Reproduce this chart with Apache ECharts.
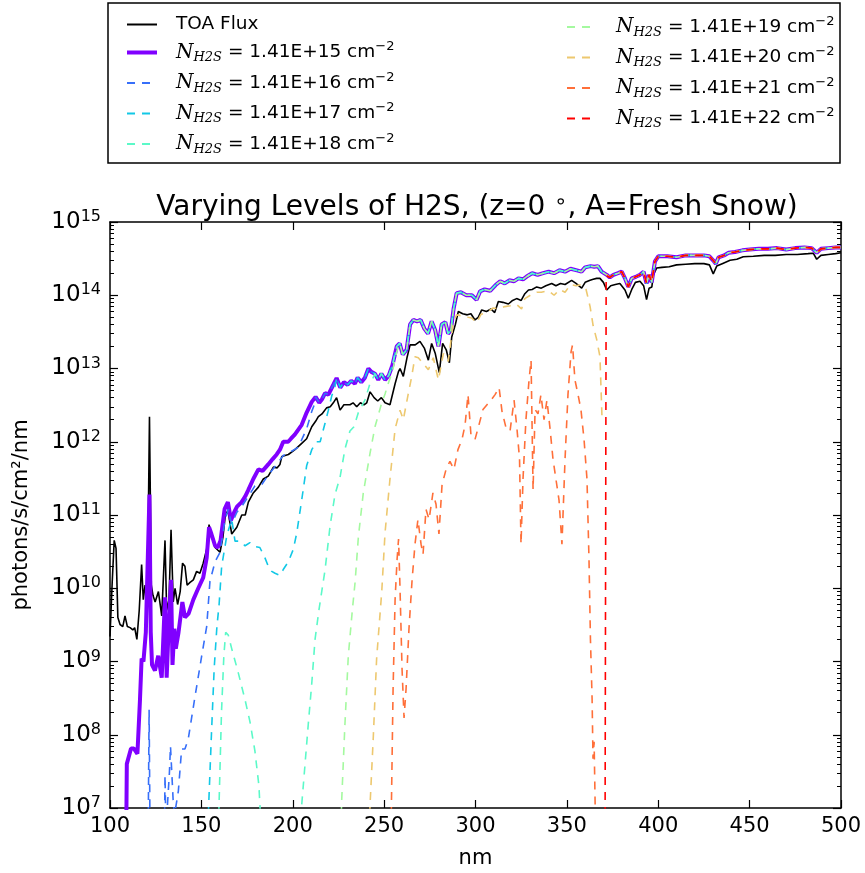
<!DOCTYPE html>
<html><head><meta charset="utf-8">
<script src="https://cdn.jsdelivr.net/npm/echarts@6/dist/echarts.min.js"></script>
<style>html,body{margin:0;padding:0;background:#fff}#chart{width:865px;height:873px}</style>
</head><body><div id="chart"></div>
<script>
// ---------------- data ----------------
const xTickValues = [100, 150, 200, 250, 300, 350, 400, 450, 500];
const yTickExponents = [7, 8, 9, 10, 11, 12, 13, 14, 15];
const columnDensities = ['1.41E+15', '1.41E+16', '1.41E+17', '1.41E+18', '1.41E+19', '1.41E+20', '1.41E+21', '1.41E+22'];

const toaWavelength = [
  100,101.2,102.3,103.3,104.3,105.5,107,108.2,109.5,111,
  112.5,113.5,114.7,116,117.3,118.2,119.2,120.5,121.6,122.6,
  123.5,124.7,126.5,128.3,130.1,131,132.3,133.4,134.6,135.6,
  137,138.4,139.7,141,142.2,143.8,145.6,147.4,149.2,151,
  152.9,154.2,155.6,157.5,160.2,161.8,163.3,164.8,166.6,169.4,
  172.1,174,175.7,178.4,181.2,183.9,186.6,189.4,191.5,193,
  194,197.6,201.2,204.9,207.6,210.4,212.5,214,216,218.5,
  220.5,222.2,224,225.9,228,231.3,233,235,237,239,
  240.5,242.3,244.5,246.5,248.5,250.5,253.2,256,257.8,258.7,
  260.5,262.5,264.2,267,269.6,272,274.2,276,278,280.2,
  282,284,285.7,287,289,290.6,293,295.5,297.5,299.7,
  301.5,303.4,306,308.5,310.5,312.5,315,318,320,322.5,
  325,327,329,331,333.5,336,338.5,341.7,344,346.5,
  349,352.6,355,358.1,360,362.7,364.4,366.3,368.1,370,
  371.8,374,376.5,379,381.8,383.6,385.5,387.5,390,392,
  393.6,395,396.5,397.3,399.1,402,406,410,415,420,
  425,428,430.1,432,435,439.3,443,446.5,452,458,
  464,470,476,482,484.8,486.7,489,493,497,500];
const toaFlux = [
  2.2e9,1.2e10,4.5e10,3.5e10,4.0e9,3.2e9,3.0e9,4.2e9,3.0e9,2.9e9,
  2.7e9,2.9e9,2.0e9,5.0e9,2.1e10,7.0e9,1.1e10,9.0e9,2.2e12,1.1e10,
  8.0e9,6.5e9,9.0e9,4.2e9,4.5e10,5.0e9,7.0e9,6.3e10,6.5e9,1.0e10,
  6.0e9,9.0e9,2.2e10,2.0e10,1.1e10,1.2e10,1.3e10,1.7e10,1.6e10,2.2e10,
  3.4e10,7.4e10,5.2e10,3.6e10,3.1e10,5.0e10,1.1e11,1.05e11,5.5e10,6.8e10,
  1.0e11,1.0e11,1.5e11,2.0e11,2.4e11,3.1e11,3.4e11,4.5e11,4.4e11,4.9e11,
  6.3e11,6.7e11,7.8e11,9.5e11,1.1e12,1.6e12,1.9e12,2.2e12,2.4e12,2.9e12,
  3.0e12,3.4e12,4.0e12,2.7e12,3.2e12,3.2e12,3.4e12,3.0e12,3.4e12,3.2e12,
  3.4e12,4.8e12,4.0e12,3.6e12,4.0e12,3.4e12,3.2e12,6.2e12,9.0e12,1.0e13,
  7.8e12,1.4e13,2.1e13,2.1e13,2.35e13,1.9e13,1.3e13,2.2e13,1.6e13,8.8e12,
  2.2e13,1.8e13,1.2e13,2.7e13,4.0e13,6.0e13,5.6e13,5.4e13,5.6e13,4.6e13,
  5.0e13,6.3e13,6.0e13,6.5e13,5.8e13,8.2e13,8.0e13,7.6e13,8.4e13,9.0e13,
  8.5e13,1.05e14,1.18e14,1.2e14,1.3e14,1.25e14,1.35e14,1.45e14,1.35e14,1.45e14,
  1.4e14,1.6e14,1.45e14,1.25e14,1.5e14,1.6e14,1.65e14,1.7e14,1.7e14,1.5e14,
  1.18e14,1.35e14,1.4e14,1.45e14,1.18e14,9.1e13,1.2e14,1.5e14,1.55e14,1.35e14,
  8.7e13,1.25e14,1.3e14,1.9e14,2.35e14,2.4e14,2.45e14,2.6e14,2.65e14,2.7e14,
  2.7e14,2.6e14,1.96e14,2.5e14,2.7e14,3.0e14,3.1e14,3.35e14,3.4e14,3.5e14,
  3.5e14,3.6e14,3.6e14,3.7e14,3.75e14,3.1e14,3.5e14,3.6e14,3.7e14,3.8e14];

// upper (surface-reflected) spectrum shared by all H2S columns once absorption is negligible
const upperWavelength = [
  160.5,162.7,164.5,166.2,168,169.5,172,174,175.7,178.4,
  181.2,183.5,186.6,189,191.2,193,194.8,197.5,199,201.2,
  204.9,207.6,210.4,212.5,214.5,216,217.7,219.5,222.2,224,
  226,228,230,232,234,235.5,237.5,239.5,241.4,243,
  245,246.8,248.5,250.5,252.5,254.5,256.9,258.5,260.2,262.3,
  264.2,266,268,270,272,274,276,278,279.7,281.5,
  283.5,285,286.5,288,289.7,292,295,298,300.6,302.5,
  305,308,311,313.5,316,318.5,321,323.5,326,328,
  331,334,337,340,343,346,349,352,355,358,
  360,363,365,367,369,371.8,373.5,375.5,378,380,
  381.8,383.6,385.5,388,390,392,393.6,395,396.4,398.2,
  400,405,410,415,420,425,428,430,431.5,433,
  436,438.5,442,446,450,455,460,465,470,475,
  480,484,486.7,489,493,497,500];
const upperFlux = [
  4.5e10,1.2e11,1.5e11,8.5e10,1.1e11,1.3e11,1.5e11,1.8e11,2.2e11,3.1e11,
  4.2e11,4.0e11,4.9e11,5.8e11,6.7e11,7.8e11,1.0e12,1.0e12,1.1e12,1.26e12,
  1.7e12,2.5e12,3.5e12,4.1e12,3.4e12,3.8e12,4.6e12,4.4e12,6.0e12,7.4e12,
  5.5e12,6.5e12,6.0e12,6.8e12,6.2e12,7.5e12,6.5e12,7.5e12,1.0e13,9.0e12,
  8.5e12,7.0e12,8.5e12,7.0e12,8.0e12,1.1e13,2.0e13,2.2e13,1.55e13,1.8e13,
  4.0e13,4.6e13,4.4e13,4.6e13,3.5e13,3.0e13,4.4e13,3.3e13,2.0e13,4.0e13,
  4.3e13,3.0e13,3.3e13,6.5e13,1.07e14,1.1e14,1.0e14,1.0e14,8.7e13,1.13e14,
  1.2e14,1.15e14,1.38e14,1.55e14,1.45e14,1.6e14,1.55e14,1.7e14,1.65e14,1.8e14,
  2.0e14,1.9e14,2.0e14,2.1e14,2.0e14,2.2e14,2.1e14,2.3e14,2.2e14,2.1e14,
  2.4e14,2.5e14,2.45e14,2.5e14,2.1e14,1.9e14,1.75e14,1.9e14,2.0e14,2.1e14,
  1.7e14,1.3e14,1.7e14,1.8e14,1.9e14,2.1e14,1.45e14,1.9e14,1.5e14,2.9e14,
  3.4e14,3.4e14,3.3e14,3.5e14,3.5e14,3.5e14,3.4e14,3.0e14,2.7e14,3.3e14,
  3.5e14,3.8e14,3.9e14,4.1e14,4.2e14,4.3e14,4.3e14,4.4e14,4.2e14,4.4e14,
  4.5e14,4.4e14,3.8e14,4.3e14,4.4e14,4.5e14,4.5e14];

// absorbed part of each H2S column (before it joins the upper spectrum); null = zero flux (gap on a log axis)
const h2s15Wavelength = [108.9,109.2,111.5,113,115,116.4,117.3,118.3,119.6,121.6,
  122.3,123,124.6,126.4,128.3,130.1,131,132,133.4,134.2,
  135.2,136,137.5,139.6,141,143,145.6,148.3,151,152.9,
  154.2,155.5,157.5,159];
const h2s15Flux = [5e6,4e7,6.5e7,6.5e7,5.5e7,3e8,1.1e9,1e9,2.5e9,1.9e11,
  2.5e9,9e8,7.5e8,1.2e9,6e8,7.5e9,6e8,2.5e9,1.3e10,9e8,
  2.8e9,1.5e9,2.5e9,6.5e9,4e9,4.5e9,7e9,1e10,1.4e10,2.6e10,
  6.8e10,5.5e10,3.8e10,3.6e10];

const h2s16Wavelength = [120.9,121.4,121.9,129.8,130.1,130.6,132.5,133.1,134.6,135.3,
  137.4,139.2,141,142.8,146.5,150.2,152.9,154.7,157.5,160.2,
  163,164.8,166.5,169.5,172,175.7,179.3,183,186.6,191.2,
  194.8,197.6,203,207.6,210.4,212.2];
const h2s16Flux = [5e6,2.2e8,5e6,5e6,2.8e7,5e6,3e7,7e7,1.2e7,8e6,
  1.7e7,6.4e7,6.4e7,8.7e7,3.3e8,1.2e9,3e9,1.25e10,2.3e10,3.1e10,
  8.8e10,1.2e11,7.5e10,1.1e11,1.3e11,1.8e11,2.5e11,2.6e11,3.5e11,4.9e11,
  6.5e11,7e11,8.4e11,1.5e12,2.6e12,3.4e12];

const h2s17Wavelength = [153.5,154,155.5,157,158.5,159.7,161.1,163.9,166.6,168.4,
  171,173.9,176.6,179.5,182,184.8,186.6,188.5,190.3,193,
  194.8,197.6,200.3,202.2,204.9,207.6,210.4,213.1,215,217.7,
  219.5,221.3,223];
const h2s17Flux = [5e6,1.1e7,1e8,8e8,3e9,6e9,2e10,5.2e10,8.8e10,4.4e10,
  4.4e10,3.8e10,4.2e10,3.7e10,3.6e10,2.6e10,2e10,1.7e10,1.6e10,1.5e10,
  1.8e10,2.3e10,3.4e10,5.7e10,1.6e11,4.7e11,7.8e11,1.0e12,1.0e12,1.8e12,
  2.7e12,4.2e12,5.5e12];

const h2s18Wavelength = [159.3,159.7,161,162.3,163.3,164.7,166.6,170.2,173.9,176.6,
  179.3,181.5,182.3,183,204.5,204.9,206.7,208.5,210.4,212.2,
  214.4,217.7,220.4,223.1,225.9,228.6,231.3,233.5,235.9,239.5,
  242.3,244];
const h2s18Flux = [5e6,1.2e7,2e8,1.2e9,2.5e9,2.3e9,1.5e9,7e8,3e8,1.5e8,
  6e7,2e7,8e6,5e6,5e6,1.1e7,3.9e7,1.4e8,5e8,2e9,
  5.2e9,1.8e10,7e10,1.9e11,3.3e11,8e11,1.4e12,1.6e12,2.5e12,3.7e12,
  6.3e12,7.5e12];

const h2s19Wavelength = [226.3,226.8,228.5,230.4,232.6,234.1,235.9,238.6,242.3,245,
  248.7,250.5,252.3,254.5,256.9];
const h2s19Flux = [5e6,1.3e7,1.3e8,1.2e9,5e9,1.2e10,5e10,2e11,7e11,1.6e12,
  3.4e12,4.5e12,6.3e12,9e12,1.7e13];

const h2s20Wavelength = [241.8,242.3,244.1,245.9,248.7,250.5,253.2,256,258.7,260.5,
  263.2,265.1,266.9,268.7,271,274.2,276.9,279.7,282.4,285.1,
  287.8,289.7,293,296,297.9,300.6,303,306,309.7,313,
  316,319,322.5,325.2,327,330,333.5,336,340,343,
  346,349,352,355,358,360.5,362.7,364.4,366.3,368.1,
  369.2,370.5];
const h2s20Flux = [5e6,1.1e7,9.6e7,1.1e9,9e9,5.7e10,3.1e11,1.5e12,2.7e12,2e12,
  4.5e12,7.8e12,1.45e13,1.4e13,1.2e13,9.6e12,1.4e13,7e12,1.6e13,1.25e13,
  4.2e13,5.4e13,5.2e13,5e13,4.9e13,4.2e13,5.5e13,5.8e13,6.7e13,6.5e13,
  7e13,7.2e13,7.5e13,6.5e13,9e13,1e14,1.1e14,1.1e14,1.15e14,1e14,
  1.2e14,1.1e14,1.4e14,1.35e14,1.4e14,1.2e14,7e13,3.8e13,2.5e13,1.45e13,
  2.2e12,null];

const h2s21Wavelength = [253.8,254.9,256,257.1,257.9,258.7,259.8,260.9,262,263.6,
  265.3,266.9,268.5,270.2,271.3,272.9,274.6,276.7,278.4,280,
  281.7,283.9,286,288.2,290.4,292.6,294.3,295.9,297.5,299.7,
  301.9,304.1,306.3,308.5,310.7,312.9,314.5,316.7,318.9,321.1,
  322.7,324.1,324.9,326,327.6,329.3,330.4,331.5,332.6,334.2,
  335.8,337.5,339.1,340.8,342.4,344,345.7,347.3,349,350.6,
  352.3,353.1,354.4,356.1,357.7,359.4,361,362.1,362.9,363.8,
  364.3,364.9,365.7,370.5];
const h2s21Flux = [5e6,4.2e8,7e9,2.5e10,4.7e10,9.8e9,8e8,1.7e8,4.2e8,2.8e9,
  1.3e10,4e10,8.7e10,4e10,2.9e10,1.2e11,8.7e10,2e11,1.4e11,5.5e10,
  2.6e11,4.2e11,5.4e11,4.2e11,7.8e11,1.07e12,1.7e12,4.4e12,1.25e12,1.07e12,
  1.7e12,2.75e12,3.2e12,3.7e12,4.4e12,5.5e12,2.6e12,1.55e12,1.4e12,3.7e12,
  1.5e12,5.8e11,4e10,3.1e11,2e12,7e12,1.3e13,2.2e11,2.75e12,2.4e12,
  4.4e12,2e12,3.7e12,1.5e12,5.8e11,3.1e11,1.6e11,4e10,5.8e11,4.4e12,
  1.7e13,2.1e13,7e12,4.4e12,2.75e12,1.07e12,3.1e11,2.5e10,2e9,3.1e8,
  4.7e7,8e7,5e6,null];

const h2s22Wavelength = [370.9, 371.5];
const h2s22Flux = [5e6, 1.85e14];

// ---------------- styles ----------------
const FONT = 'DejaVu Sans';
const seriesColors = ['#8000ff', '#376ff9', '#12c8e6', '#5bf9c8', '#a4f99f', '#edc86f', '#ff6f39', '#ff0000'];

function pairs(w, v) { return w.map((x, i) => [x, v[i]]); }
function joinUpper(w, v) {
  const out = pairs(w, v);
  const last = w[w.length - 1];
  upperWavelength.forEach((x, i) => { if (x > last) out.push([x, upperFlux[i]]); });
  return out;
}

const ownW = [h2s15Wavelength, h2s16Wavelength, h2s17Wavelength, h2s18Wavelength, h2s19Wavelength, h2s20Wavelength, h2s21Wavelength, h2s22Wavelength];
const ownF = [h2s15Flux, h2s16Flux, h2s17Flux, h2s18Flux, h2s19Flux, h2s20Flux, h2s21Flux, h2s22Flux];
const h2sNames = columnDensities.map(d => 'N_H2S = ' + d + ' cm^-2');

const series = [{
  name: 'TOA Flux', type: 'line', data: pairs(toaWavelength, toaFlux),
  symbol: 'none', showSymbol: false, clip: true,
  lineStyle: { color: '#000', width: 1.6 }, itemStyle: { color: '#000' }
}];
h2sNames.forEach((nm, i) => {
  series.push({
    name: nm, type: 'line', data: joinUpper(ownW[i], ownF[i]),
    symbol: 'none', showSymbol: false, clip: true, connectNulls: false,
    lineStyle: i === 0 ? { color: seriesColors[i], width: 4 } : { color: seriesColors[i], width: 1.6, type: [8, 7] },
    itemStyle: { color: seriesColors[i] }
  });
});

const minorTicks = [];
yTickExponents.slice(0, -1).forEach(e => { for (let k = 2; k <= 9; k++) minorTicks.push(k * Math.pow(10, e)); });

const legendRich = {
  t: { fontFamily: FONT, fontSize: 18.5, lineHeight: 24, color: '#000' },
  n: { fontFamily: 'DejaVu Serif', fontStyle: 'italic', fontSize: 20, lineHeight: 24, color: '#000' },
  s: { fontFamily: 'DejaVu Serif', fontStyle: 'italic', fontSize: 13, lineHeight: 13, verticalAlign: 'bottom', color: '#000' },
  p: { fontFamily: FONT, fontSize: 13, lineHeight: 13, verticalAlign: 'top', color: '#000' }
};
function legendFormatter(name) {
  if (name === 'TOA Flux') return '{t|TOA Flux}';
  const d = columnDensities[h2sNames.indexOf(name)];
  return '{n|N}{s|H2S}{t| = ' + d + ' cm}{p|\u22122}';
}
function legendData(names) {
  return names.map(n => n === h2sNames[0] ? { name: n, lineStyle: { width: 4 } } : { name: n });
}
const legendCommon = {
  orient: 'vertical', itemWidth: 30, itemHeight: 14, itemGap: 6.5,
  formatter: legendFormatter,
  itemStyle: { opacity: 0, borderWidth: 0 },
  textStyle: { rich: legendRich, padding: [0, 0, 0, 14] }, selectedMode: false
};

const yLabelRich = {
  b: { fontFamily: FONT, fontSize: 23, color: '#000', lineHeight: 26 },
  e: { fontFamily: FONT, fontSize: 16, color: '#000', lineHeight: 15, verticalAlign: 'top' }
};
function yLabel(v) { return '{b|10}{e|' + Math.round(Math.log10(v)) + '}'; }

const baseX = { type: 'value', min: 100, max: 500, interval: 50 };
const baseY = { type: 'log', logBase: 10, min: 1e7, max: 1e15, splitNumber: 8 };
const axisLine = { show: true, lineStyle: { color: '#000', width: 1.5 } };

const option = {
  animation: false,
  backgroundColor: '#fff',
  title: {
    text: '{a|Varying Levels of H2S, (z=0 }{d|\u2218}{a|, A=Fresh Snow)}',
    left: 472, top: 187, textAlign: 'center',
    textStyle: { fontWeight: 'normal', rich: {
      a: { fontFamily: FONT, fontSize: 28, fontWeight: 'normal', color: '#000', lineHeight: 31 },
      d: { fontFamily: FONT, fontSize: 21, fontWeight: 'normal', color: '#000', lineHeight: 14, verticalAlign: 'top' }
    } }
  },
  graphic: [{
    type: 'rect', shape: { x: 108, y: 3, width: 732, height: 160 },
    style: { fill: '#fff', stroke: '#000', lineWidth: 1.5 }, z: -1, silent: true
  }],
  legend: [
    Object.assign({}, legendCommon, { left: 120, top: 10, data: legendData(['TOA Flux'].concat(h2sNames.slice(0, 4))) }),
    Object.assign({}, legendCommon, { left: 561, top: 10, data: legendData(h2sNames.slice(4)) })
  ],
  grid: { left: 110, right: 24, top: 222, bottom: 65, outerBoundsMode: 'none', containLabel: false },
  xAxis: [
    Object.assign({}, baseX, {
      position: 'bottom', axisLine,
      axisTick: { show: true, inside: true, length: 8, lineStyle: { color: '#000', width: 1.2 } },
      axisLabel: { show: true, margin: 8, fontFamily: FONT, fontSize: 21, color: '#000', showMinLabel: true, showMaxLabel: true },
      splitLine: { show: false },
      name: 'nm', nameLocation: 'middle', nameGap: 40,
      nameTextStyle: { fontFamily: FONT, fontSize: 21, color: '#000' }
    }),
    Object.assign({}, baseX, {
      position: 'top', axisLine,
      axisTick: { show: true, inside: true, length: 8, lineStyle: { color: '#000', width: 1.2 } },
      axisLabel: { show: false }, splitLine: { show: false }
    })
  ],
  yAxis: [
    Object.assign({}, baseY, {
      position: 'left', axisLine,
      axisTick: { show: true, inside: true, length: 8, lineStyle: { color: '#000', width: 1.2 } },
      axisLabel: { show: true, margin: 9, formatter: yLabel, rich: yLabelRich, showMinLabel: true, showMaxLabel: true },
      splitLine: { show: false },
      name: 'photons/s/cm\u00b2/nm', nameLocation: 'middle', nameGap: 78,
      nameTextStyle: { fontFamily: FONT, fontSize: 21, color: '#000' }
    }),
    Object.assign({}, baseY, {
      position: 'left', axisLine: { show: false },
      axisTick: { show: true, inside: true, length: 4, customValues: minorTicks, lineStyle: { color: '#000', width: 1 } },
      axisLabel: { show: false }, splitLine: { show: false }
    }),
    Object.assign({}, baseY, {
      position: 'right', axisLine,
      axisTick: { show: true, inside: true, length: 8, lineStyle: { color: '#000', width: 1.2 } },
      axisLabel: { show: false }, splitLine: { show: false }
    }),
    Object.assign({}, baseY, {
      position: 'right', axisLine: { show: false },
      axisTick: { show: true, inside: true, length: 4, customValues: minorTicks, lineStyle: { color: '#000', width: 1 } },
      axisLabel: { show: false }, splitLine: { show: false }
    })
  ],
  series: series
};

const chart = echarts.init(document.getElementById('chart'), null, { renderer: 'canvas', width: 865, height: 873 });
chart.setOption(option);
</script>
</body></html>
